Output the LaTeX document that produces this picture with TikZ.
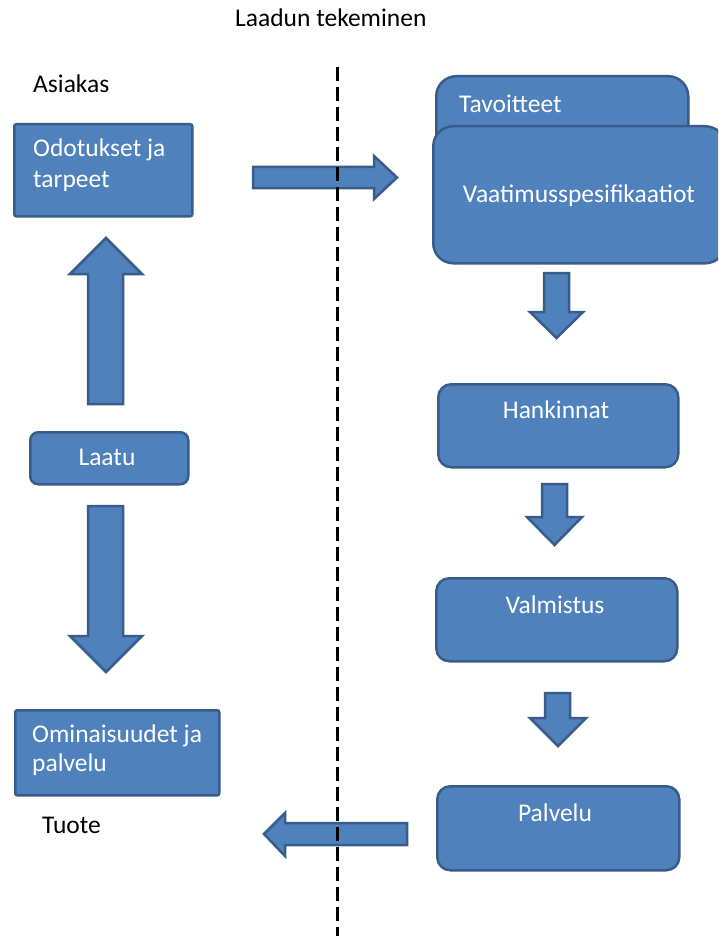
\documentclass[tikz,border=0pt]{standalone}
\usepackage{fontspec}
\setmainfont{Carlito}
\definecolor{fillblue}{HTML}{4F81BD}
\definecolor{edgeblue}{HTML}{385D8A}
\begin{document}
\begin{tikzpicture}[x=1pt,y=-1pt,
  box/.style={draw=edgeblue,fill=fillblue,line width=2.5pt,inner sep=0pt,anchor=north west},
  barrow/.style={draw=edgeblue,fill=fillblue,line width=2.5pt,line join=miter},
  intext/.style={text=white,font=\fontsize{25.5}{30}\selectfont,inner sep=0pt},
  plain/.style={text=black,font=\fontsize{25.5}{30}\selectfont,inner sep=0pt},
  divider/.style={draw=black,line width=3pt,dash pattern=on 14pt off 6pt}]
\useasboundingbox (0,0) rectangle (718,936);
\fill[white] (0,0) rectangle (718,936);
\clip (0,0) rectangle (718,936);

% boxes
\node[box,rounded corners=2pt,minimum width=178pt,minimum height=92pt] (odot) at (13,123) {};
\node[box,rounded corners=8pt,minimum width=158pt,minimum height=52pt] (laatu) at (29,431) {};
\node[box,rounded corners=2pt,minimum width=204pt,minimum height=85pt] (omin) at (14,709) {};
\node[box,rounded corners=20pt,minimum width=252pt,minimum height=80pt] (tavo) at (435,75) {};
\node[box,rounded corners=20pt,minimum width=292pt,minimum height=137pt] (vaat) at (432,125) {};
\node[box,rounded corners=13pt,minimum width=240pt,minimum height=83pt] (hank) at (437,383) {};
\node[box,rounded corners=13pt,minimum width=241pt,minimum height=83pt] (valm) at (435,577) {};
\node[box,rounded corners=13pt,minimum width=242pt,minimum height=84pt] (palv) at (436,785) {};

% texts in boxes
\node[intext,anchor=base west] (t-odot1) at (33,157) {Odotukset ja};
\node[intext,anchor=base west] (t-odot2) at (33,187) {tarpeet};
\node[intext,anchor=base] (t-laatu) at (107,465) {Laatu};
\node[intext,anchor=base west] (t-omin1) at (32,742) {Ominaisuudet ja};
\node[intext,anchor=base west] (t-omin2) at (32,771) {palvelu};
\node[intext,anchor=base west] (t-tavo) at (459,113) {Tavoitteet};
\node[intext,anchor=base] (t-vaat) at (579,202) {Vaatimusspesifikaatiot};
\node[intext,anchor=base] (t-hank) at (556,418) {Hankinnat};
\node[intext,anchor=base] (t-valm) at (555,613) {Valmistus};
\node[intext,anchor=base] (t-palv) at (555,821) {Palvelu};

% plain labels
\node[plain,anchor=base west] (title) at (235,27) {Laadun tekeminen};
\node[plain,anchor=base west] (asiakas) at (33,93) {Asiakas};
\node[plain,anchor=base west] (tuote) at (42,833) {Tuote};

% block arrows
% right arrow
\draw[barrow] (253,167) -- (374,167) -- (374,156) -- (397,177.5) -- (374,199) -- (374,188) -- (253,188) -- cycle;
% up arrow (Laatu -> Odotukset)
\draw[barrow] (88,404) -- (88,274) -- (70,274) -- (106,238) -- (142,274) -- (123,274) -- (123,404) -- cycle;
% down arrow (Laatu -> Ominaisuudet)
\draw[barrow] (88,506) -- (88,636) -- (70,636) -- (106,672) -- (142,636) -- (123,636) -- (123,506) -- cycle;
% right column down arrows
\draw[barrow] (544,273) -- (569,273) -- (569,312) -- (583,312) -- (556.5,338) -- (530,312) -- (544,312) -- cycle;
\draw[barrow] (542,484) -- (567,484) -- (567,517) -- (582,517) -- (554.5,545) -- (527,517) -- (542,517) -- cycle;
\draw[barrow] (545,693) -- (570,693) -- (570,718) -- (586,718) -- (558,746) -- (530,718) -- (545,718) -- cycle;
% left arrow
\draw[barrow] (407,823) -- (285,823) -- (285,813) -- (264,834) -- (285,856) -- (285,845) -- (407,845) -- cycle;

% dashed divider
\coordinate (dtop) at (337,67);
\coordinate (dbot) at (337,940);
\draw[divider] (dtop) -- (dbot);
\end{tikzpicture}
\end{document}
